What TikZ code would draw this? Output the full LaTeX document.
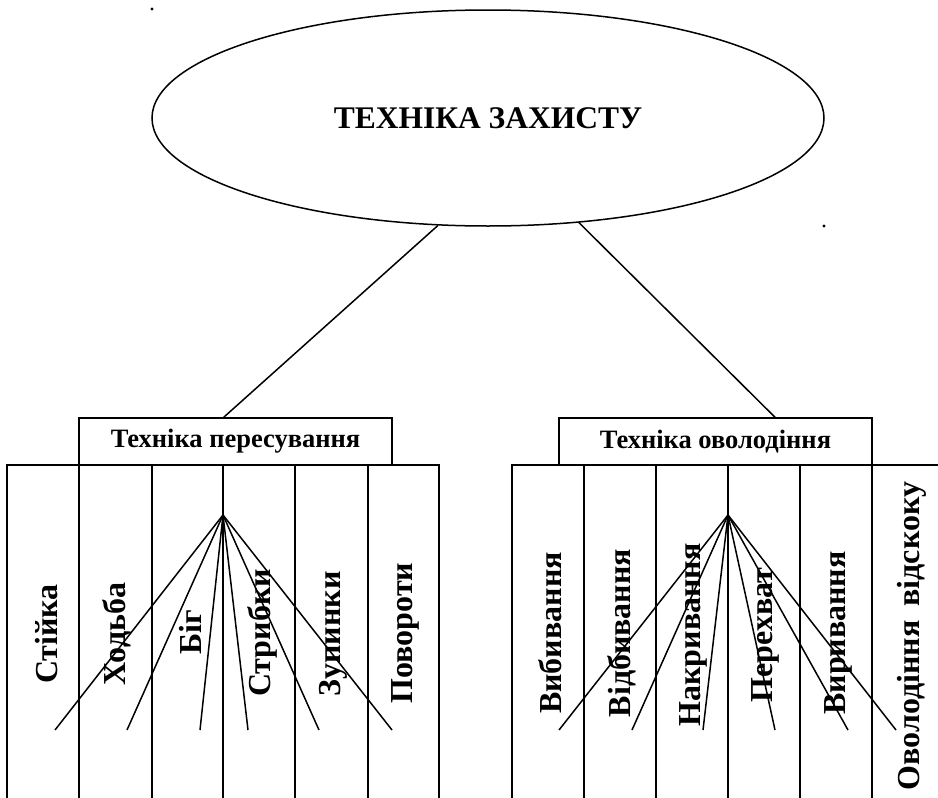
\documentclass[tikz,border=0pt]{standalone}
\usepackage{fontspec}
\setmainfont{Liberation Serif}
\usetikzlibrary{shapes.geometric,calc}
\begin{document}
\begin{tikzpicture}[x=1pt,y=-1pt,
  ln/.style={line width=1.5pt,black},
  oval/.style={ellipse,draw,line width=1.5pt,inner sep=0pt,minimum width=672pt,minimum height=216pt,
    font=\fontsize{31.5}{36}\selectfont\bfseries},
  headbox/.style={rectangle,draw,line width=1.5pt,inner sep=0pt,minimum width=313pt,minimum height=47pt,
    font=\fontsize{26.5}{30}\selectfont\bfseries},
  colbox/.style={rectangle,draw,line width=1.5pt,inner sep=0pt,minimum height=345pt},
  vlabel/.style={rotate=90,inner sep=0pt,font=\fontsize{32}{36}\selectfont\bfseries}
]
\useasboundingbox (0,0) rectangle (938,798);
\clip (0,0) rectangle (938,798);

% top ellipse
\node[oval] (top) at (488,118) {ТЕХНІКА ЗАХИСТУ};

% stray dots
\fill (152,9) circle (1.6pt);
\fill (824,226) circle (1.6pt);

% left group columns
\node[colbox,minimum width=72pt] (cL1) at (43,637.5) {};
\node[colbox,minimum width=73pt] (cL2) at (115.5,637.5) {};
\node[colbox,minimum width=71pt] (cL3) at (187.5,637.5) {};
\node[colbox,minimum width=72pt] (cL4) at (259,637.5) {};
\node[colbox,minimum width=73pt] (cL5) at (331.5,637.5) {};
\node[colbox,minimum width=71pt] (cL6) at (403.5,637.5) {};

% right group columns
\node[colbox,minimum width=72pt] (cR1) at (548,637.5) {};
\node[colbox,minimum width=72pt] (cR2) at (620,637.5) {};
\node[colbox,minimum width=72pt] (cR3) at (692,637.5) {};
\node[colbox,minimum width=72pt] (cR4) at (764,637.5) {};
\node[colbox,minimum width=72pt] (cR5) at (836,637.5) {};
\node[colbox,minimum width=90pt] (cR6) at (917,637.5) {};

% header boxes
\node[headbox] (hL) at (235.5,441.5) {Техніка пересування};
\node[headbox] (hR) at (715.5,441.5) {Техніка оволодіння};

% connectors from ellipse
\draw[ln] (top.245.8) -- (hL.north -| cL3.east);
\draw[ln] (top.311.6) -- ($(hR.north)+(59.5,0)$);

% labels left
\node[vlabel] (lL1) at (47,634) {Стійка};
\node[vlabel] (lL2) at (117,634) {Ходьба};
\node[vlabel] (lL3) at (190,632) {Біг};
\node[vlabel] (lL4) at (262,633) {Стрибки};
\node[vlabel] (lL5) at (333,634) {Зупинки};
\node[vlabel] (lL6) at (405,633) {Повороти};

% labels right
\node[vlabel] (lR1) at (550,633) {Вибивання};
\node[vlabel] (lR2) at (622,633) {Відбивання};
\node[vlabel] (lR3) at (693,635) {Накривання};
\node[vlabel] (lR4) at (765,635) {Перехват};
\node[vlabel] (lR5) at (838,633) {Виривання};
\node[vlabel] (lR6) at (912,636) {Оволодіння\hspace{14pt}відскоку};

% fans
\coordinate (apL) at (223,515);
\coordinate (apR) at (728,515);
\foreach \x [count=\i] in {55,127,200,248,319,392}{
  \coordinate (eL\i) at (\x,730);
  \draw[ln] (apL) -- (eL\i);
}
\foreach \x [count=\i] in {559,632,703,775,848,896}{
  \coordinate (eR\i) at (\x,730);
  \draw[ln] (apR) -- (eR\i);
}
\end{tikzpicture}
\end{document}
